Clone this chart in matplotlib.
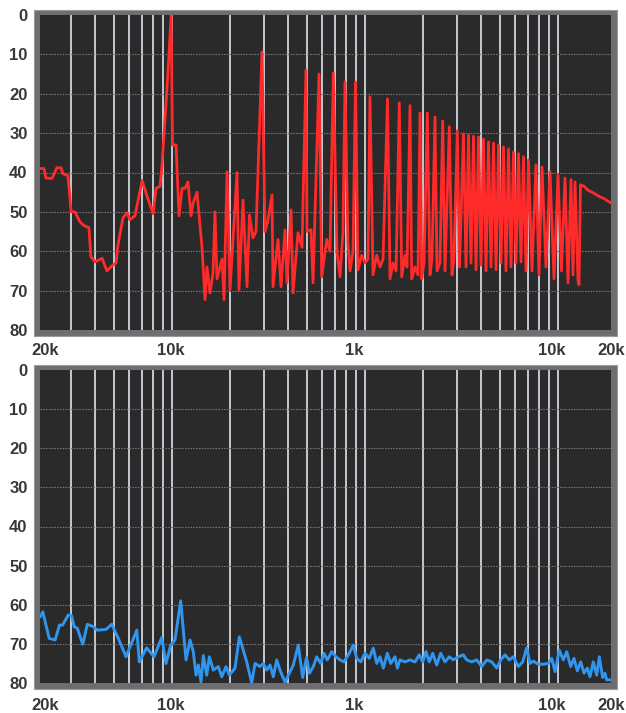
import matplotlib
matplotlib.use("Agg")
import matplotlib.pyplot as plt
from matplotlib.patches import Rectangle
from matplotlib.ticker import NullLocator

# frequency (Hz) and level (dB below reference) of the red trace
red_freq = [20.7, 21.7, 22.2, 23.9, 25.3, 26.6, 27.2, 28.9, 30, 31.4, 33.3, 35, 37.1, 38, 39.9,
            43.4, 46, 49.4, 51.3, 52.5, 55.7, 58.5, 60.5, 64.3, 70, 74.2, 79.8, 82.7, 86.7, 88.8,
            94.2, 99, 100.5, 104.9, 108.7, 112.7, 116.8, 121, 125.5, 128.5, 134.8, 143, 148.3,
            151.8, 157.3, 163.1, 167, 171.1, 181.6, 186, 192.8, 199.8, 217.2, 222.4, 233.3, 244.7,
            252, 262.8, 272.4, 292.6, 303.3, 313, 329.7, 333.7, 354.2, 367.1, 385, 394.4, 413.6,
            423.6, 449.7, 471.6, 494.6, 500.6, 525, 537.8, 577.8, 596.6, 633.4, 658.8, 685.2,
            716.1, 742.2, 769.1, 787.7, 816.3, 836.1, 866.5, 892.8, 920, 961.4, 1000, 1036, 1061,
            1100, 1150, 1196, 1240, 1308, 1348, 1397, 1448, 1506, 1550, 1612, 1651, 1711, 1746,
            1816, 1882, 1928, 1967, 2022, 2103, 2171, 2224, 2305, 2361, 2446, 2527, 2597, 2734,
            2823, 2892, 3008, 3088, 3238, 3337, 3438, 3542, 3649, 3760, 3874, 3990, 4111, 4236,
            4365, 4498, 4635, 4775, 4920, 5066, 5220, 5378, 5540, 5709, 5882, 6060, 6243, 6433,
            6626, 6826, 7034, 7333, 7691, 7970, 8262, 8664, 9089, 9535, 10000, 10425, 10872,
            11268, 11679, 11961, 12251, 12694, 12851, 13080, 13637, 14302, 15004, 15737, 16506,
            17311, 18159, 18822]
red_db = [39, 39, 41.4, 41.5, 38.8, 38.8, 40.3, 40.8, 50, 50, 52.5, 53.5, 54, 61.4, 62.7,
          61.8, 65, 63.5, 63, 58.4, 51.5, 50.2, 52, 51, 42, 46, 50.5, 44, 43.5, 38,
          18.6, 0, 33, 33, 51, 44, 44, 42.4, 51, 47.8, 45, 59, 72.3,
          64, 70.6, 65.5, 50, 67, 62, 72.3, 39.8, 69.8, 40, 69.8, 47, 69,
          50.8, 56.6, 55, 9.4, 55, 52.5, 45.7, 69, 57, 69, 54.6, 68, 49.5,
          70.6, 55.3, 59, 14, 55, 54.5, 68, 15, 66.5, 57, 60, 14.7,
          60.4, 66.5, 55, 17, 58, 65, 60, 17, 64.7, 61, 63, 62, 20.8,
          66, 61, 64, 62, 21.3, 67, 63, 65, 22.3, 66.5, 61, 64, 23, 67,
          64, 66, 24.9, 67, 63, 24.9, 66, 62, 25.9, 65, 63, 26.9, 65, 28.4,
          66, 62, 29.4, 64, 30.2, 64, 30.5, 63, 30.8, 64.7, 31, 63.5, 31.5, 65,
          32.2, 64, 32.5, 64.7, 33, 63, 33.5, 65, 34, 64, 34.8, 63, 35.2, 62.7,
          36, 65, 36.8, 65, 38, 66, 38.6, 64, 39.8, 67, 40.6, 65, 41.4,
          68, 41.8, 66, 42.4, 67.3, 68.5, 43.1, 43.5, 44.5, 45, 45.6, 46.2,
          46.6, 47.3, 47.7]

# blue trace
blue_freq = [20.8, 21.4, 23.1, 24.8, 26.1, 27.1, 29, 30.2, 31.1, 32.3, 34.5, 36.4, 39.1, 41,
             45.5, 48.7, 52.7, 57.8, 65.7, 67.7, 73.9, 80.7, 88.4, 93.1, 98.5, 103.6, 110.9,
             118.2, 124, 128.9, 133.2, 136.9, 141.3, 145.3, 151.3, 156.1, 163.7, 173.8, 181,
             190.5, 198.2, 212.1, 223.3, 243.8, 258.8, 269.2, 285.8, 297.2, 309.5, 322, 334.9,
             348.7, 362.7, 385, 425.1, 451.2, 475.5, 497.6, 515.7, 539.6, 562, 589.5, 613, 637.8,
             672, 707.5, 742, 778, 829, 869.5, 906, 950, 1000, 1052, 1104, 1150, 1196, 1244,
             1305, 1359, 1430, 1471, 1518, 1612, 1711, 1816, 1911, 1991, 2071, 2153, 2243, 2352,
             2467, 2597, 2734, 2867, 3044, 3230, 3365, 3571, 3792, 4025, 4273, 4535, 4815, 5048,
             5314, 5593, 5868, 6228, 6562, 6883, 7160, 7447, 7905, 8391, 8906, 9277, 9650,
             10155, 10653, 11094, 11636, 12105, 12590, 13112, 13637, 14184, 14648, 15236,
             15867, 16368, 17045, 17519, 17878, 18599]
blue_db = [63, 61.8, 68.6, 69, 65.2, 65.2, 62.6, 62.8, 65.6, 66, 70.1, 65, 65.6, 66.5,
           66.3, 65, 68.6, 73.3, 66.5, 74.6, 71, 73.3, 68.4, 75, 70.3, 69, 59,
           74.1, 69, 72, 78, 75.4, 79.7, 73, 78, 73.3, 76.7, 75.8, 78.4,
           75.8, 78, 76.2, 68.2, 74.6, 80, 75, 75.8, 75, 76.7, 75.4, 78.4,
           74.1, 76.7, 79.8, 75.4, 70.3, 78.6, 73.5, 77.5, 75.8, 73.3, 75, 72.4, 74.1,
           72, 73.3, 74.1, 74.6, 72.4, 70.3, 73.7, 74.6, 72.4, 73.7, 71.1, 75, 73.3, 76.2,
           72.4, 75, 73.3, 76.2, 74.1, 74.6, 74.1, 74.6, 72.8, 74.6, 72, 74.6, 72.4, 75.4,
           72.4, 74.6, 73.3, 74.1, 73.3, 72.8, 74.1, 74.6, 74.1, 75.8, 74.1, 74.6, 76.2, 74.1,
           72.8, 74.1, 73.3, 75.8, 74.6, 71, 75, 74.4, 75.2, 75.2, 75, 73.7, 77.1,
           71.6, 74.1, 72, 75.8, 73.7, 76.9, 74.6, 77.5, 76.2, 78.4, 74.6,
           78, 73.3, 78.6, 77.5, 79.2, 79.2]

grid_freqs = [30, 40, 50, 60, 70, 80, 90, 100, 200, 300, 400, 500, 600, 700, 800, 900,
              1000, 2000, 3000, 4000, 5000, 6000, 7000, 8000, 9000, 10000]
db_ticks = [0, 10, 20, 30, 40, 50, 60, 70, 80]
x_label_pos = [22, 98, 880, 9300, 18800]
x_labels = ["20k", "10k", "1k", "10k", "20k"]

W, H = 626, 713
fig = plt.figure(figsize=(W / 100, H / 100), dpi=100)
fig.patch.set_facecolor("white")

label_font = dict(family=["Liberation Sans", "DejaVu Sans"], weight="bold", size=12, color="#383838")


def panel(rect_px, freq, db, color, lw, xpad):
    x0, y0, x1, y1 = rect_px
    ax = fig.add_axes([x0 / W, 1 - y1 / H, (x1 - x0) / W, (y1 - y0) / H])
    # gray bevel frame behind the plot area
    fig.patches.append(Rectangle(((x0 - 6) / W, 1 - (y1 + 6) / H), (x1 - x0 + 12) / W,
                                 (y1 - y0 + 11) / H, transform=fig.transFigure,
                                 facecolor="#6e6e70", edgecolor="#9a9a9c", lw=0.8, zorder=-1))
    ax.set_facecolor("#2a2a2a")
    ax.set_xscale("log")
    ax.set_xlim(20.7, 18822)
    ax.set_ylim(80, 0)
    for f in grid_freqs:
        ax.axvline(f, color="#d4d4de", lw=1.3, zorder=1)
    for d in db_ticks[1:-1]:
        ax.axhline(d, color="#727272", lw=0.8, ls=(0, (1.5, 1)), zorder=1)
    ax.plot(freq, db, color=color, lw=lw, zorder=3, solid_joinstyle="round")
    ax.xaxis.set_minor_locator(NullLocator())
    ax.set_xticks(x_label_pos)
    ax.set_xticklabels(x_labels, fontdict=label_font)
    ax.set_yticks(db_ticks)
    ax.set_yticklabels([str(d) for d in db_ticks], fontdict=label_font)
    ax.tick_params(axis="both", length=0)
    ax.tick_params(axis="x", pad=xpad)
    ax.tick_params(axis="y", pad=9)
    for s in ax.spines.values():
        s.set_visible(False)
    return ax


panel((40, 15, 611, 330), red_freq, red_db, "#ff2b2b", 2.0, 9.5)
panel((40, 370, 611, 683), blue_freq, blue_db, "#2f95ee", 2.1, 11)

fig.savefig("out.png", dpi=100)
